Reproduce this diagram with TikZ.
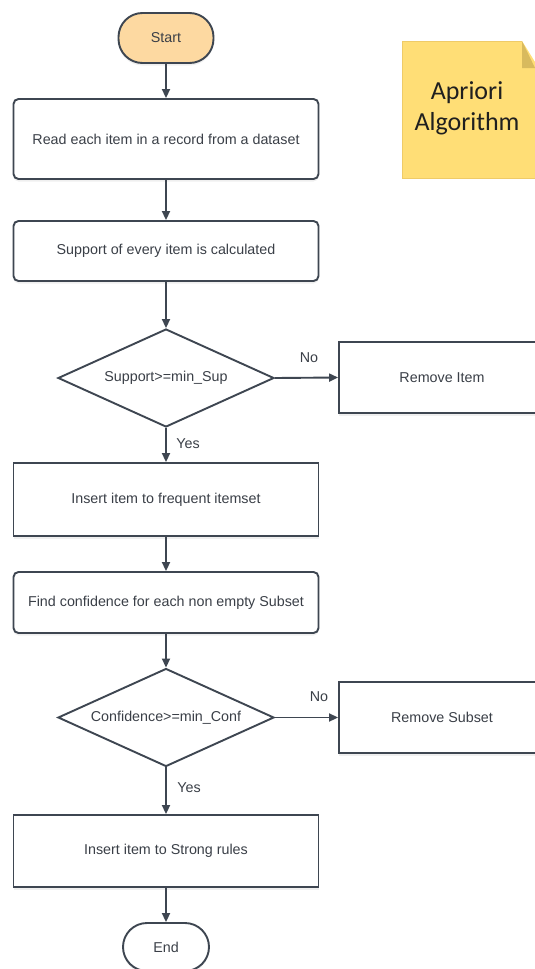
\documentclass[tikz,border=0pt]{standalone}
\usepackage{fontspec}
\setmainfont{Liberation Sans}
\newfontfamily\notefont{Carlito}
\usetikzlibrary{arrows.meta,shapes.geometric,shadows}
\definecolor{edge}{HTML}{3E4651}
\definecolor{txt}{HTML}{3A3F47}
\definecolor{startfill}{HTML}{FDD9A1}
\definecolor{notefill}{HTML}{FFDE76}
\definecolor{notefold}{HTML}{D8BA5E}
\definecolor{noteedge}{HTML}{EFCB68}
\tikzset{
  base/.style={draw=edge, line width=1.9pt, text=txt, font=\fontsize{14.3}{17}\selectfont, inner sep=0pt, align=center},
  shad/.style={drop shadow={opacity=0.12, shadow xshift=0pt, shadow yshift=-2.5pt}},
  rbox/.style={base, shad, fill=white, rectangle, rounded corners=5pt, minimum width=305pt},
  sbox/.style={base, shad, fill=white, rectangle, minimum width=305pt},
  term/.style={base, shad, rectangle, rounded corners=24pt},
  dec/.style={base, fill=white, diamond, minimum width=216pt, minimum height=98pt, shape aspect=2.2},
  flow/.style={draw=edge, line width=1.9pt, -{Triangle[length=9pt,width=8pt]}},
  lab/.style={text=txt, font=\fontsize{14.3}{17}\selectfont, inner sep=0pt}
}
\begin{document}
\begin{tikzpicture}[x=1pt,y=-1pt]
\clip (0,0) rectangle (535,969);
\fill[white] (0,0) rectangle (535,969);
% note
\fill[notefill] (402,41) -- (522,41) -- (535,62) -- (535,178) -- (402,178) -- cycle;
\draw[noteedge, line width=0.6pt] (535,178) -- (402,178) -- (402,41) -- (522,41);
\fill[notefold] (522,41) -- (522,68) -- (535,68) -- cycle;
\node[font=\notefont\fontsize{26}{31}\selectfont, text=black!88, align=center, inner sep=0pt] (note) at (467,108) {Apriori\\Algorithm};
% nodes
\node[term, fill=startfill, minimum width=95pt, minimum height=50pt] (start) at (166,38) {Start};
\node[rbox, minimum height=80pt] (b1) at (166,139) {Read each item in a record from a dataset};
\node[rbox, minimum height=60pt] (b2) at (166,251) {Support of every item is calculated};
\node[dec] (d1) at (166,378) {Support>=min\_Sup};
\node[sbox, minimum width=206pt, minimum height=71pt] (ri) at (442,377.5) {Remove Item};
\node[sbox, minimum height=73pt] (b3) at (166,499.5) {Insert item to frequent itemset};
\node[rbox, minimum height=61pt] (b4) at (166,602.5) {Find confidence for each non empty Subset};
\node[dec] (d2) at (166,717.5) {Confidence>=min\_Conf};
\node[sbox, minimum width=206pt, minimum height=71pt] (rs) at (442,717.5) {Remove Subset};
\node[sbox, minimum height=72pt] (b5) at (166,851) {Insert item to Strong rules};
\node[term, fill=white, minimum width=86pt, minimum height=48pt] (end) at (166,947) {End};
% connectors
\draw[flow] (start) -- (b1);
\draw[flow] (b1) -- (b2);
\draw[flow] (b2) -- (d1);
\draw[flow] (d1.east) -- (ri.west);
\draw[flow] (d1.south) -- (b3.north);
\draw[flow] (b3) -- (b4);
\draw[flow] (b4) -- (d2);
\draw[flow] (d2.east) -- (rs.west);
\draw[flow] (d2.south) -- (b5.north);
\draw[flow] (b5) -- (end);
% labels
\node[lab] (no1) at (309,358) {No};
\node[lab] (yes1) at (188,444) {Yes};
\node[lab] (no2) at (319,697) {No};
\node[lab] (yes2) at (189,788) {Yes};
\end{tikzpicture}
\end{document}
